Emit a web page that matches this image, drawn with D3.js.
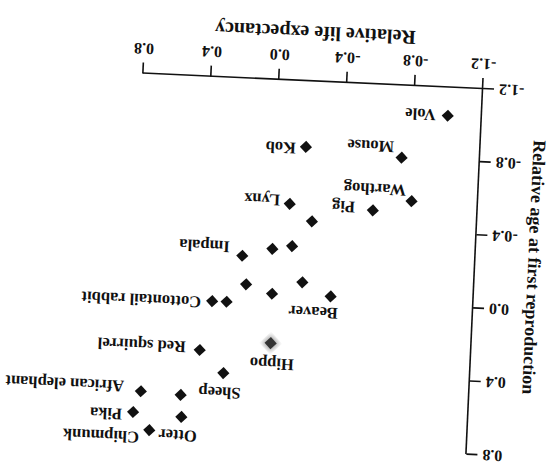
<!DOCTYPE html>
<html>
<head>
<meta charset="utf-8">
<script src="https://cdn.jsdelivr.net/npm/d3@7"></script>
<style>
  body { margin: 0; background: #fff; }
  svg text { font-family: "Liberation Serif", "Times New Roman", serif; fill: #111; }
</style>
</head>
<body>
<svg id="chart" width="553" height="470"></svg>
<script>
/* DATA */
const names = ["Vole", "Kob", "Mouse", "Warthog", "Pig", "Lynx", "", "", "", "Impala",
  "", "", "", "Beaver", "", "Cottontail rabbit", "Hippo", "Red squirrel", "Sheep",
  "African elephant", "", "Pika", "Otter", "Chipmunk"];
const lifeExp = [-1.00, -0.175, -0.74, -0.81, -0.585, -0.095, -0.23, -0.12, -0.005, 0.17,
  0.14, -0.19, -0.015, -0.36, 0.25, 0.335, -0.02, 0.395, 0.25,
  0.73, 0.495, 0.77, 0.485, 0.67];
const ageRepro = [-1.045, -0.84, -0.805, -0.57, -0.51, -0.525, -0.435, -0.295, -0.275, -0.23,
  -0.075, -0.10, -0.03, -0.03, 0.025, 0.025, 0.24, 0.295, 0.415,
  0.535, 0.545, 0.65, 0.665, 0.745];
const ticks = [-1.2, -0.8, -0.4, 0.0, 0.4, 0.8];

/* label placement, [dx, dy, anchor] from the marker */
const labelPos = {
  "Vole": [12, 0, "start"], "Kob": [10, -2, "start"], "Mouse": [8, 10, "start"],
  "Warthog": [6, 10, "start"], "Pig": [18, 2, "start"], "Lynx": [10, 3, "start"],
  "Impala": [13, 8, "start"], "Beaver": [-8, -17, "start"],
  "Cottontail rabbit": [11, -2, "start"], "Hippo": [-2, -21, "middle"],
  "Red squirrel": [14, 2, "start"], "Sheep": [3, -20, "middle"],
  "African elephant": [17, 4, "start"], "Pika": [11, -3, "start"],
  "Otter": [3, -19, "middle"], "Chipmunk": [10, -8, "start"]
};

const W = 340, H = 366;
const svg = d3.select('#chart');
svg.append('rect').attr('width', 553).attr('height', 470).attr('fill', '#fff');

const defs = svg.append('defs');
defs.append('filter').attr('id', 'fuzz')
  .append('feGaussianBlur').attr('stdDeviation', 2.2);

// the scan is upside down and a bit skewed
const g = svg.append('g').attr('transform', 'translate(483,89) rotate(182.6)');

const x = d3.scaleLinear().domain([-1.2, 0.8]).range([0, W]);
const y = d3.scaleLinear().domain([-1.2, 0.8]).range([0, -H]);
const fmt = d => d3.format('.1f')(d).replace('\u2212', '-');

/* AXES */
const xAxis = g.append('g')
  .call(d3.axisBottom(x).tickValues(ticks).tickFormat(fmt)
    .tickSize(11).tickSizeOuter(0).tickPadding(8));
const yAxis = g.append('g')
  .call(d3.axisLeft(y).tickValues(ticks).tickFormat(fmt)
    .tickSize(11).tickSizeOuter(0).tickPadding(5));

g.selectAll('.domain, .tick line').attr('stroke', '#111').attr('stroke-width', 1.6);
g.selectAll('.tick text')
  .style('font-family', '"Liberation Serif", serif')
  .style('font-size', '16px').style('font-weight', 'bold').attr('fill', '#111');

g.append('text')
  .attr('x', x(-0.2)).attr('y', 55)
  .attr('text-anchor', 'middle')
  .style('font-size', '20px').style('font-weight', 'bold')
  .text('Relative life expectancy');

g.append('text')
  .attr('transform', 'translate(-53,' + y(-0.24) + ') rotate(-90)')
  .attr('text-anchor', 'middle')
  .style('font-size', '18px').style('font-weight', 'bold')
  .text('Relative age at first reproduction');

/* POINTS */
const pts = names.map((n, i) => ({ name: n, lx: lifeExp[i], ay: ageRepro[i] }));
const diamond = d3.symbol().type(d3.symbolSquare).size(74);

g.selectAll('.halo').data(pts.filter(d => d.name == "Hippo")).enter()
  .append('path')
  .attr('d', d3.symbol().type(d3.symbolSquare).size(150))
  .attr('transform', d => 'translate(' + x(d.lx) + ',' + y(d.ay) + ') rotate(45)')
  .attr('fill', '#aaa').attr('filter', 'url(#fuzz)');

g.selectAll('.pt').data(pts).enter()
  .append('path')
  .attr('class', 'pt')
  .attr('d', diamond)
  .attr('transform', d => 'translate(' + x(d.lx) + ',' + y(d.ay) + ') rotate(45)')
  .attr('fill', d => d.name == "Hippo" ? '#333' : '#111');

g.selectAll('.lbl').data(pts.filter(d => d.name != "")).enter()
  .append('text')
  .attr('class', 'lbl')
  .attr('x', d => x(d.lx) + labelPos[d.name][0])
  .attr('y', d => y(d.ay) + labelPos[d.name][1])
  .attr('dy', '0.35em')
  .attr('text-anchor', d => labelPos[d.name][2])
  .style('font-size', '16.5px').style('font-weight', 'bold')
  .text(d => d.name);
</script>
</body>
</html>
